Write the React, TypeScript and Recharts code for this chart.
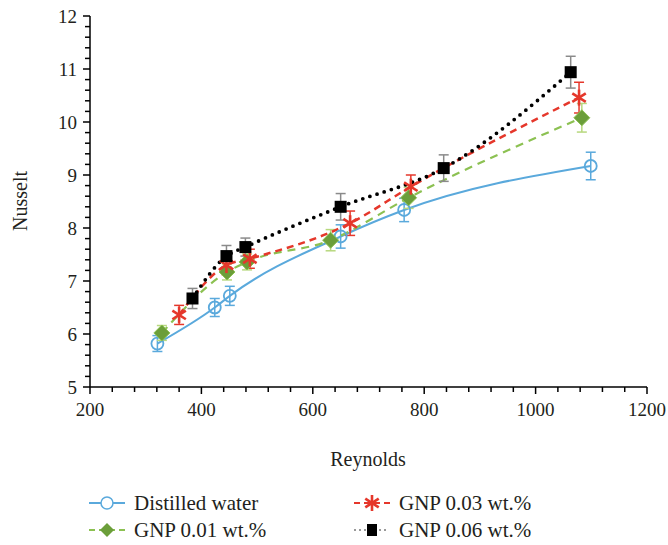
import React from "react";
import { LineChart, Line, XAxis, YAxis, ErrorBar } from "recharts";

// Reynolds / Nusselt values per series
const waterRe = [321, 424, 451, 650, 764, 1099];
const waterNu = [5.82, 6.5, 6.72, 7.84, 8.34, 9.17];
const waterErr = [0.15, 0.17, 0.18, 0.22, 0.22, 0.26];

const gnp001Re = [329, 446, 482, 632, 772, 1083];
const gnp001Nu = [6.02, 7.17, 7.36, 7.77, 8.57, 10.08];
const gnp001Err = [0.14, 0.15, 0.15, 0.2, 0.2, 0.27];

const gnp003Re = [360, 445, 487, 667, 776, 1078];
const gnp003Nu = [6.36, 7.3, 7.42, 8.09, 8.78, 10.46];
const gnp003Err = [0.18, 0.18, 0.18, 0.23, 0.22, 0.29];

const gnp006Re = [384, 445, 479, 650, 835, 1063];
const gnp006Nu = [6.67, 7.47, 7.64, 8.4, 9.13, 10.94];
const gnp006Err = [0.19, 0.2, 0.17, 0.25, 0.25, 0.3];

const xMajor = [200, 400, 600, 800, 1000, 1200];
const yMajor = [5, 6, 7, 8, 9, 10, 11, 12];

const xTicks: number[] = [];
for (let i = 0; i <= 25; i++) xTicks.push(200 + i * 40);
const yTicks: number[] = [];
for (let i = 0; i <= 35; i++) yTicks.push(Math.round((5 + i * 0.2) * 10) / 10);

const build = (re: number[], nu: number[], err: number[]) =>
  re.map((r, i) => ({ re: r, nu: nu[i], err: err[i] }));

const waterData = build(waterRe, waterNu, waterErr);
const gnp001Data = build(gnp001Re, gnp001Nu, gnp001Err);
const gnp003Data = build(gnp003Re, gnp003Nu, gnp003Err);
const gnp006Data = build(gnp006Re, gnp006Nu, gnp006Err);

const BLUE = "#5aa9dc";
const GREEN = "#8cc152";
const GREEN_DARK = "#6b9e3a";
const RED = "#e5372b";
const FONT = "\"Liberation Serif\", Tinos, \"Noto Serif\", \"DejaVu Serif\", FreeSerif, Times, serif";

const CircleDot = (p: any) => {
  if (p.cx == null || p.cy == null) return null;
  return <circle cx={p.cx} cy={p.cy} r={6} fill="none" stroke={BLUE} strokeWidth={1.8} />;
};
const DiamondDot = (p: any) => {
  if (p.cx == null || p.cy == null) return null;
  const s = 8;
  return (
    <path
      d={`M${p.cx},${p.cy - s}L${p.cx + s},${p.cy}L${p.cx},${p.cy + s}L${p.cx - s},${p.cy}Z`}
      fill={GREEN_DARK}
      stroke={GREEN}
      strokeWidth={1}
    />
  );
};
const StarDot = (p: any) => {
  if (p.cx == null || p.cy == null) return null;
  const r = 8;
  const dx = r * Math.cos(Math.PI / 5.5);
  const dy = r * Math.sin(Math.PI / 5.5);
  return (
    <g stroke={RED} strokeWidth={2.6}>
      <line x1={p.cx} y1={p.cy - r} x2={p.cx} y2={p.cy + r} />
      <line x1={p.cx - dx} y1={p.cy - dy} x2={p.cx + dx} y2={p.cy + dy} />
      <line x1={p.cx - dx} y1={p.cy + dy} x2={p.cx + dx} y2={p.cy - dy} />
    </g>
  );
};
const SquareDot = (p: any) => {
  if (p.cx == null || p.cy == null) return null;
  return <rect x={p.cx - 6} y={p.cy - 6} width={12} height={12} fill="#000" />;
};

const XTick = (p: any) => {
  const v = p.payload.value;
  const major = xMajor.includes(v);
  return (
    <g>
      <line x1={p.x} y1={p.y} x2={p.x} y2={p.y + (major ? 7 : 5)} stroke="#000" strokeWidth={1.5} />
      {major && (
        <text x={p.x} y={p.y + 29} textAnchor="middle" style={{ fontFamily: FONT }} fontSize={19} fill="#231f20">
          {v}
        </text>
      )}
    </g>
  );
};
const YTick = (p: any) => {
  const v = p.payload.value;
  const major = yMajor.includes(v);
  return (
    <g>
      <line x1={p.x} y1={p.y} x2={p.x - (major ? 7 : 5)} y2={p.y} stroke="#000" strokeWidth={1.5} />
      {major && (
        <text x={p.x - 13} y={p.y + 7} textAnchor="end" style={{ fontFamily: FONT }} fontSize={19} fill="#231f20">
          {v}
        </text>
      )}
    </g>
  );
};

const legendItems = [
  { label: "Distilled water", col: 0, row: 0, kind: "water" },
  { label: "GNP 0.01 wt.%", col: 0, row: 1, kind: "g1" },
  { label: "GNP 0.03 wt.%", col: 1, row: 0, kind: "g3" },
  { label: "GNP 0.06 wt.%", col: 1, row: 1, kind: "g6" },
];

const LegendSymbol = ({ kind }: { kind: string }) => {
  const w = 36;
  const cy = 8;
  const cx = 18;
  let line: any = null;
  let mark: any = null;
  if (kind === "water") {
    line = <line x1={0} y1={cy} x2={w} y2={cy} stroke={BLUE} strokeWidth={2} />;
    mark = <circle cx={cx} cy={cy} r={6} fill="#fff" stroke={BLUE} strokeWidth={1.5} />;
  } else if (kind === "g1") {
    line = <line x1={0} y1={cy} x2={w} y2={cy} stroke={GREEN} strokeWidth={2} strokeDasharray="6 4" />;
    mark = (
      <path d={`M${cx},${cy - 7}L${cx + 7},${cy}L${cx},${cy + 7}L${cx - 7},${cy}Z`} fill={GREEN_DARK} />
    );
  } else if (kind === "g3") {
    line = <line x1={0} y1={cy} x2={w} y2={cy} stroke={RED} strokeWidth={2} strokeDasharray="6 4" />;
    mark = <StarDot cx={cx} cy={cy} />;
  } else {
    line = (
      <line x1={1} y1={cy} x2={w} y2={cy} stroke="#000" strokeWidth={1.5} strokeDasharray="0 5" strokeLinecap="round" />
    );
    mark = <rect x={cx - 5} y={cy - 6} width={10} height={12} fill="#000" />;
  }
  return (
    <svg width={w} height={16} style={{ display: "block" }}>
      {line}
      {mark}
    </svg>
  );
};

export default function App() {
  return (
    <div
      style={{
        position: "absolute",
        left: 0,
        top: 0,
        width: 668,
        height: 545,
        background: "#fff",
        fontFamily: FONT,
      }}
    >
      <LineChart width={668} height={545} margin={{ top: 16, right: 21, left: 40, bottom: 128 }}>
        <XAxis
          xAxisId="b"
          type="number"
          dataKey="re"
          domain={[200, 1200]}
          ticks={xTicks}
          interval={0}
          tick={<XTick />}
          tickSize={0}
          tickMargin={0}
          tickLine={false}
          height={30}
          allowDataOverflow
          axisLine={{ stroke: "#000", strokeWidth: 1.5 }}
        />
        <XAxis
          xAxisId="t"
          orientation="top"
          type="number"
          dataKey="re"
          domain={[200, 1200]}
          tick={false}
          tickLine={false}
          height={0}
          axisLine={{ stroke: "#000", strokeWidth: 1.5 }}
        />
        <YAxis
          yAxisId="l"
          type="number"
          domain={[5, 12]}
          ticks={yTicks}
          interval={0}
          tick={<YTick />}
          tickSize={0}
          tickMargin={0}
          tickLine={false}
          width={50}
          allowDataOverflow
          axisLine={{ stroke: "#000", strokeWidth: 1.5 }}
        />
        <YAxis
          yAxisId="r"
          orientation="right"
          type="number"
          domain={[5, 12]}
          tick={false}
          tickLine={false}
          width={0}
          axisLine={{ stroke: "#000", strokeWidth: 1.5 }}
        />
        <Line
          xAxisId="b"
          yAxisId="l"
          data={waterData}
          dataKey="nu"
          type="monotone"
          stroke={BLUE}
          strokeWidth={2}
          dot={<CircleDot />}
          activeDot={false}
          isAnimationActive={false}
        >
          <ErrorBar dataKey="err" direction="y" width={5} stroke={BLUE} strokeWidth={1.5} isAnimationActive={false} />
        </Line>
        <Line
          xAxisId="b"
          yAxisId="l"
          data={gnp001Data}
          dataKey="nu"
          type="monotone"
          stroke={GREEN}
          strokeWidth={2.2}
          strokeDasharray="8 6"
          dot={<DiamondDot />}
          activeDot={false}
          isAnimationActive={false}
        >
          <ErrorBar dataKey="err" direction="y" width={5} stroke="#b7d87e" strokeWidth={1.5} isAnimationActive={false} />
        </Line>
        <Line
          xAxisId="b"
          yAxisId="l"
          data={gnp003Data}
          dataKey="nu"
          type="monotone"
          stroke={RED}
          strokeWidth={2.5}
          strokeDasharray="7 5"
          dot={<StarDot />}
          activeDot={false}
          isAnimationActive={false}
        >
          <ErrorBar dataKey="err" direction="y" width={5} stroke={RED} strokeWidth={1.5} isAnimationActive={false} />
        </Line>
        <Line
          xAxisId="b"
          yAxisId="l"
          data={gnp006Data}
          dataKey="nu"
          type="monotone"
          stroke="#000"
          strokeWidth={3.8}
          strokeDasharray="0 7.5"
          strokeLinecap="round"
          dot={<SquareDot />}
          activeDot={false}
          isAnimationActive={false}
        >
          <ErrorBar dataKey="err" direction="y" width={5} stroke="#8a8a8a" strokeWidth={1.5} isAnimationActive={false} />
        </Line>
      </LineChart>
      <div
        style={{
          position: "absolute",
          left: 20,
          top: 201,
          transform: "translate(-50%, -50%) rotate(-90deg)",
          fontFamily: FONT,
          fontSize: 20,
          color: "#231f20",
          whiteSpace: "nowrap",
        }}
      >
        Nusselt
      </div>
      <div
        style={{
          position: "absolute",
          left: 368,
          top: 459,
          transform: "translate(-50%, -50%)",
          fontFamily: FONT,
          fontSize: 20,
          color: "#231f20",
          whiteSpace: "nowrap",
        }}
      >
        Reynolds
      </div>
      {legendItems.map((it) => (
        <div
          key={it.label}
          style={{
            position: "absolute",
            left: it.col === 0 ? 89 : 354,
            top: (it.row === 0 ? 503 : 530) - 11,
            height: 22,
            display: "flex",
            alignItems: "center",
            fontFamily: FONT,
            fontSize: 21,
            color: "#231f20",
            whiteSpace: "nowrap",
          }}
        >
          <LegendSymbol kind={it.kind} />
          <span style={{ marginLeft: 9 }}>{it.label}</span>
        </div>
      ))}
    </div>
  );
}
